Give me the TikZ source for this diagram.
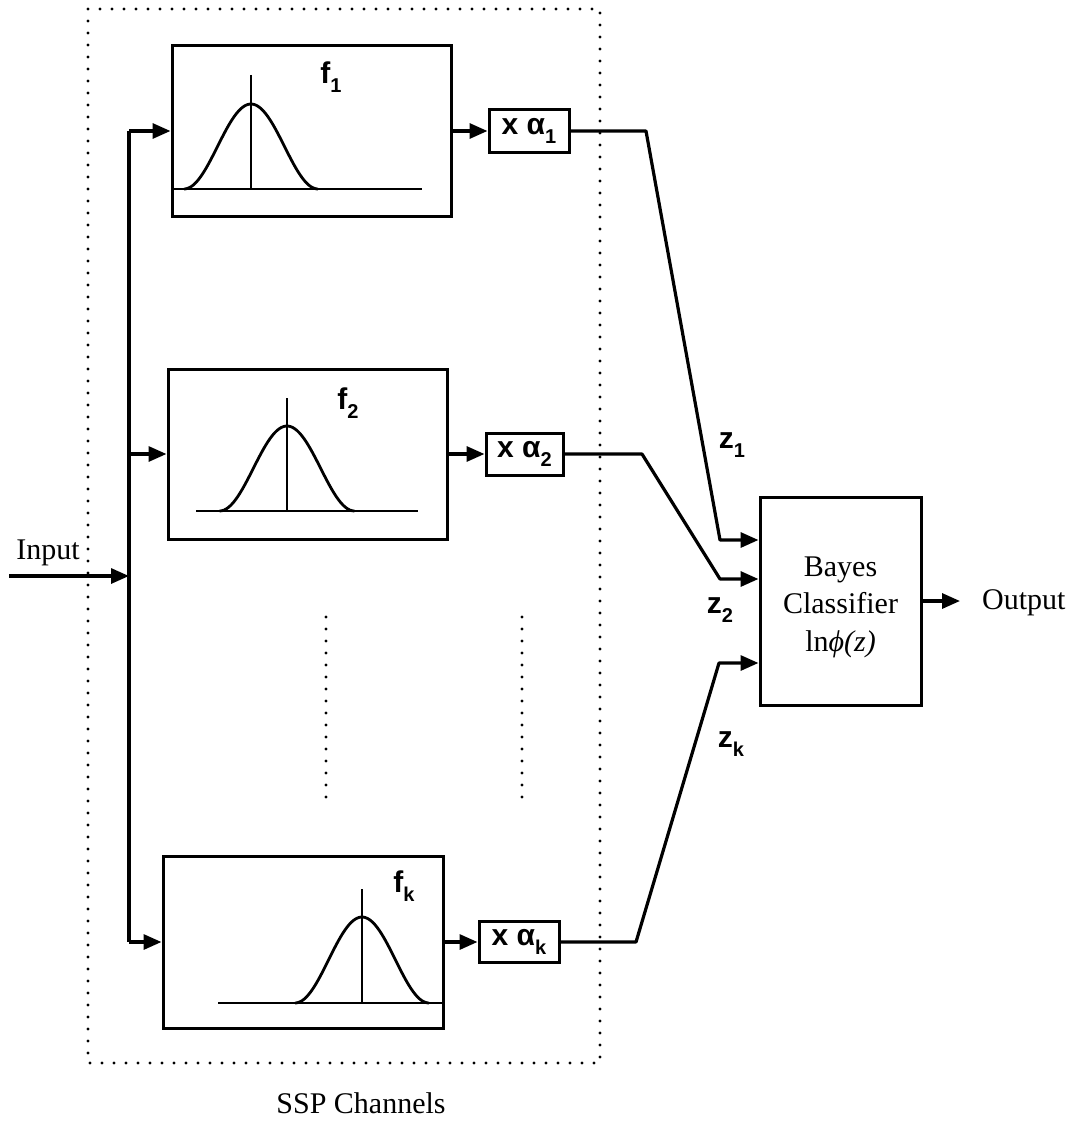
\documentclass[tikz,border=0pt]{standalone}
\usepackage{fontspec}
\setmainfont{Liberation Serif}
\newfontfamily\sansf{Liberation Sans}
\usetikzlibrary{arrows.meta}
\newcommand\labfont{\sansf\bfseries\fontsize{30}{34}\selectfont}
\newcommand\serfont{\fontsize{30}{37.5}\selectfont}
\newcommand\lowsub[1]{\raisebox{-0.3em}{\fontsize{20}{20}\selectfont #1}}
\begin{document}
\begin{tikzpicture}[x=1pt,y=-1pt,
  conn/.style={line width=3.2pt, line join=round},
  arr/.style={conn, -{Triangle[length=18pt,width=15pt]}},
  fbox/.style={draw, line width=3pt, minimum width=279pt, minimum height=170pt, inner sep=0pt},
  abox/.style={draw, line width=3pt, minimum width=80pt, minimum height=42pt, inner sep=0pt, font=\labfont},
  lab/.style={inner sep=0pt, font=\labfont},
  serif/.style={inner sep=0pt, font=\serfont},
  bell/.style={line width=2.8pt},
  dotl/.style={line width=3.4pt, line cap=round, dash pattern=on 0pt off 12pt}
]
\useasboundingbox (0,0) rectangle (1085,1121);

% dotted frame
\draw[dotl] (88,9) rectangle (600,1063);
\draw[dotl] (326,617) -- (326,797);
\draw[dotl] (522,617) -- (522,797);

% filter boxes
\node[fbox] (f1) at (311.5,131) {};
\node[fbox] (f2) at (307.5,454) {};
\node[fbox, minimum width=280pt, minimum height=172pt] (fk) at (303,942) {};

% bells f1
\draw[bell] (172,189) -- (422,189);
\draw[bell] plot[domain=184:318, samples=60, smooth] (\x,{189-85*(0.5+0.5*cos(180*(\x-251)/67))});
\draw[bell] (251,75) -- (251,189);
% bells f2
\draw[bell] (196,511) -- (418,511);
\draw[bell] plot[domain=219.5:354.5, samples=60, smooth] (\x,{511-85*(0.5+0.5*cos(180*(\x-287)/67.5))});
\draw[bell] (287,398) -- (287,511);
% bells fk
\draw[bell] (218,1003) -- (443,1003);
\draw[bell] plot[domain=295:429, samples=60, smooth] (\x,{1003-86*(0.5+0.5*cos(180*(\x-362)/67))});
\draw[bell] (362,889) -- (362,1003);

% labels
\node[lab] (lf1) at (331,77) {f\lowsub{1}};
\node[lab] (lf2) at (348,403) {f\lowsub{2}};
\node[lab] (lfk) at (404,886) {f\lowsub{k}};

% alpha boxes
\node[abox] (a1) at (529,131) {x α\lowsub{1}};
\node[abox, minimum width=77pt] (a2) at (524.5,454) {x α\lowsub{2}};
\node[abox, minimum height=41pt] (ak) at (519,942) {x α\lowsub{k}};

% Bayes
\node[draw, line width=3pt, minimum width=161pt, minimum height=208pt, inner sep=0pt] (bayes) at (840.5,601) {};
\node[align=center, font=\serfont, inner sep=0pt] (btxt) at (840.5,607) {Bayes\\Classifier\\ln\textit{ϕ(z)}};

% input
\node[serif] (inlab) at (48,553) {Input};
\coordinate (instart) at (9,576);
\coordinate (tin) at (129,576);
\draw[arr] (instart) -- (tin);
\draw[conn] (f1.west -| tin) -- (fk.west -| tin);
\draw[arr] (f1.west -| tin) -- (f1.west);
\draw[arr] (f2.west -| tin) -- (f2.west);
\draw[arr] (fk.west -| tin) -- (fk.west);

% to alpha
\draw[arr] (f1.east) -- (a1.west);
\draw[arr] (f2.east) -- (a2.west);
\draw[arr] (fk.east) -- (ak.west);

% z connectors
\draw[arr] (a1.east) -- (646,131) -- (720,540) -- ([yshift=61pt]bayes.west);
\draw[arr] (a2.east) -- (642,454) -- (720,579) -- ([yshift=22pt]bayes.west);
\draw[arr] (ak.east) -- (636,942) -- (719,663) -- ([yshift=-62pt]bayes.west);

\node[lab] (z1) at (732,445) {z\lowsub{1}};
\node[lab] (z2) at (720,610) {z\lowsub{2}};
\node[lab] (zk) at (731,744) {z\lowsub{k}};

% output
\node[serif, anchor=west] (out) at (982,603) {Output};
\draw[arr] (bayes.east) -- ([xshift=-22pt]bayes.east -| out.west);

\node[serif] (ssp) at (361,1103) {SSP Channels};
\end{tikzpicture}
\end{document}
